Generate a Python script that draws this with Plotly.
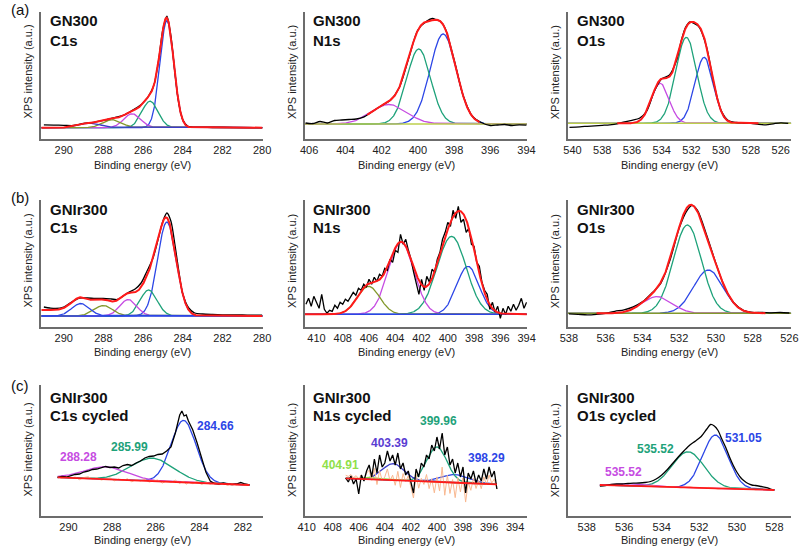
import numpy as np
import plotly.graph_objects as go

FONT = "Liberation Sans, Arial, Helvetica, sans-serif"
W, H = 810, 549

# ============================ DATA ============================
# ---- (a) GN300 C1s
a1_E = [291.0, 290.5, 290.0, 289.5, 289.0, 288.5, 288.0, 287.5, 287.0, 286.5, 286.0, 285.5, 285.25,
        285.0, 284.8, 284.6, 284.4, 284.2, 284.0, 283.75, 283.5, 283.0, 282.5, 282.0, 281.0, 280.0]
a1_I = [2.8, 2.6, 2.4, 2.2, 4.2, 5.4, 7.3, 9.8, 12.3, 17.8, 24.8, 40.0, 63.0,
        98.5, 111.5, 92.0, 55.5, 24.0, 7.8, 1.4, 0.4, 0.3, 0.2, 0.2, 0.1, 0.0]
a1_center = [284.80, 285.65, 286.55, 287.55, 288.70]
a1_height = [107.0, 26.5, 14.0, 8.0, 4.5]
a1_fwhm = [0.82, 0.95, 1.0, 1.1, 1.3]

# ---- (a) GN300 N1s
a2_E = [406.2, 405.8, 405.4, 405.0, 404.6, 404.2, 403.8, 403.4, 403.0, 402.5, 402.0, 401.5, 401.0, 400.5,
        400.0, 399.5, 399.2, 399.0, 398.75, 398.5, 398.0, 397.5, 397.0, 396.5, 396.0, 395.6, 395.2,
        394.8, 394.4, 394.0]
a2_I = [1.0, 0.5, 2.5, 1.0, 3.5, 4.0, 4.5, 5.0, 6.8, 12.5, 18.5, 24.0, 37.5, 66.0,
        94.0, 103.0, 105.5, 104.5, 102.5, 96.0, 64.5, 28.5, 8.0, 1.5, -1.5, -1.0, -0.5,
        -1.5, -0.8, -1.2]
a2_center = [398.6, 399.95, 401.6]
a2_height = [90.0, 75.0, 19.5]
a2_fwhm = [1.7, 1.55, 2.3]

# ---- (a) GN300 O1s
a3_E = [540.2, 539.5, 539.0, 538.5, 538.0, 537.5, 537.0, 536.5, 536.0, 535.5, 535.0, 534.5, 534.0, 533.5,
        533.0, 532.7, 532.4, 532.1, 531.9, 531.5, 531.0, 530.5, 530.0, 529.5, 529.0, 528.5, 528.0,
        527.5, 527.0, 526.5, 526.0, 525.5]
a3_I = [-4.0, -3.5, -3.0, -2.5, -2.0, -1.5, -0.5, 1.5, 3.0, 5.0, 12.5, 32.0, 44.5, 48.0,
        63.0, 82.0, 96.0, 101.5, 100.5, 96.5, 77.0, 40.0, 12.5, 2.5, 0.8, 0.3, 0.0,
        -1.0, -1.5, -0.5, 0.5, 0.0]
a3_center = [531.15, 532.35, 534.1]
a3_height = [66.0, 86.0, 40.0]
a3_fwhm = [1.45, 1.65, 1.4]

# ---- (b) GNIr300 C1s
b1_E = [291.0, 290.7, 290.4, 290.0, 289.6, 289.2, 288.8, 288.4, 288.0, 287.6, 287.3, 287.0, 286.7,
        286.4, 286.1, 285.8, 285.5, 285.2, 285.0, 284.8, 284.6, 284.4, 284.2, 284.0, 283.7, 283.4,
        283.0, 282.5, 282.0, 281.5, 281.0, 280.5, 280.0]
b1_I = [9, 8, 7.5, 9, 14, 18, 18, 17.5, 17.5, 17, 16.5, 20, 24,
        27, 33, 45, 58, 80, 95, 103, 95, 72, 45, 22, 8, 3,
        2, 1.5, 1.2, 1, 1, 0.8, 0.8]
b1_center = [284.8, 285.72, 286.75, 288.0, 289.15]
b1_height = [94.0, 26.0, 16.5, 10.5, 12.5]
b1_fwhm = [1.1, 1.0, 1.0, 1.1, 1.05]
b1_shirley_step = 6.0

# ---- (b) GNIr300 N1s
b2_E = [410.8, 410.6, 410.4, 410.2, 410.0, 409.8, 409.6, 409.4, 409.2, 409.0,
        408.8, 408.6, 408.4, 408.2, 408.0, 407.8, 407.6, 407.4, 407.2, 407.0,
        406.8, 406.6, 406.4, 406.2, 406.0, 405.8, 405.6, 405.4, 405.2, 405.0,
        404.8, 404.6, 404.4, 404.2, 404.0, 403.8, 403.6, 403.4, 403.2, 403.0,
        402.8, 402.6, 402.4, 402.2, 402.0, 401.8, 401.6, 401.4, 401.2, 401.0,
        400.8, 400.6, 400.4, 400.2, 400.0, 399.8, 399.6, 399.4, 399.2, 399.0,
        398.8, 398.6, 398.4, 398.2, 398.0, 397.8, 397.6, 397.4, 397.2, 397.0,
        396.8, 396.6, 396.4, 396.2, 396.0, 395.8, 395.6, 395.4, 395.2, 395.0,
        394.8, 394.6, 394.4, 394.2, 394.0]
b2_I = [10, 16, 8, 18, 12, 6, 20, 5, 1, 4,
        3, 9, 6, 12, 10, 15, 13, 18, 22, 19,
        26, 24, 30, 27, 35, 30, 37, 33, 40, 38,
        46, 44, 55, 52, 64, 62, 80, 70, 75, 64,
        55, 42, 30, 20, 35, 24, 38, 32, 45, 42,
        55, 62, 75, 82, 92, 88, 104, 96, 108, 92,
        95, 82, 86, 70, 68, 52, 48, 32, 24, 20,
        5, 12, 2, 8, -4, 6, 0, 8, 3, 10,
        4, 9, 16, 6, 12]
b2_center = [398.47, 399.71, 403.55, 406.03]
b2_height = [48.0, 78.0, 72.0, 28.0]
b2_fwhm = [2.0, 2.6, 2.3, 2.0]

# ---- (b) GNIr300 O1s
b3_E = [538.0, 537.5, 537.0, 536.5, 536.0, 535.5, 535.0, 534.5, 534.0, 533.5, 533.0, 532.5, 532.0,
        531.6, 531.3, 531.0, 530.5, 530.0, 529.5, 529.0, 528.5, 528.0, 527.5, 527.0, 526.5, 526.0]
b3_I = [-0.5, -1.0, -1.5, -1.0, 0.0, 2.0, 3.5, 6.5, 11.5, 20.0, 30.0, 53.0, 85.0,
        102.0, 108.0, 103.0, 78.0, 50.0, 25.0, 10.0, 3.0, 0.8, 1.0, 0.5, 0.8, 0.3]
b3_center = [530.41, 531.55, 533.2]
b3_height = [43.3, 88.3, 16.7]
b3_fwhm = [1.9, 1.8, 1.9]

# ---- (c) GNIr300 C1s cycled
c1_E = [290.5, 290.3, 290.1, 289.9, 289.7, 289.5, 289.3, 289.1, 288.9, 288.7, 288.5, 288.3, 288.1,
        287.9, 287.7, 287.5, 287.3, 287.1, 286.9, 286.7, 286.5, 286.3, 286.1, 285.9, 285.7, 285.5,
        285.3, 285.1, 284.9, 284.8, 284.7, 284.6, 284.5, 284.3, 284.1, 283.9, 283.7, 283.5, 283.3,
        283.1, 282.9, 282.7, 282.5, 282.3, 282.1, 281.9, 281.7]
c1_I = [7.5, 8.5, 8.0, 9.5, 10.5, 11.0, 13.0, 14.0, 15.5, 16.0, 17.5, 18.5, 17.5,
        18.0, 17.0, 19.5, 20.5, 19.5, 22.0, 24.0, 27.0, 28.5, 29.0, 30.5, 31.0, 34.0,
        38.0, 52.0, 70.0, 74.0, 69.0, 70.0, 64.0, 55.0, 42.0, 27.0, 13.0, 4.0, 1.5,
        1.0, 2.0, 1.0, 0.5, 1.0, 2.5, 1.0, 0.0]
c1_resid = [0.5, -1.0, 1.5, -0.5, 1.0, -1.5, 0.8, 1.8, -0.6, 1.2, -1.0, 0.4, 1.6,
            -1.2, 0.6, -0.8, 1.4, -1.5, 0.9, -0.4, 1.7, -1.1, 0.5, 1.3, -1.6, 0.7,
            -0.5, 1.9, -1.3, 0.6, 1.0, -1.8, 0.4, -0.9, 1.5, -1.4, 0.8, -0.6, 1.2,
            -1.0, 0.5, -1.2, 0.9, -0.4, 0.3, -0.5, 0.2]
c1_bg_E = [290.5, 281.7]
c1_bg_I = [7.7, 0.0]
c1_center = [284.72, 286.15, 288.28]
c1_height = [62.0, 23.0, 12.5]
c1_fwhm = [1.35, 2.3, 2.3]
c1_labels = ["284.66", "285.99", "288.28"]

# ---- (c) GNIr300 N1s cycled
c2_E = [407.0, 406.8, 406.6, 406.4, 406.2, 406.0, 405.8, 405.6, 405.4, 405.2,
        405.0, 404.8, 404.6, 404.4, 404.2, 404.0, 403.8, 403.6, 403.4, 403.2,
        403.0, 402.8, 402.6, 402.4, 402.2, 402.0, 401.8, 401.6, 401.4, 401.2,
        401.0, 400.8, 400.6, 400.4, 400.2, 400.0, 399.8, 399.6, 399.4, 399.2,
        399.0, 398.8, 398.6, 398.4, 398.2, 398.0, 397.8, 397.6, 397.4, 397.2,
        397.0, 396.8, 396.6, 396.4, 396.2, 396.0, 395.8, 395.6, 395.4]
c2_I = [7, 3, 9, 1, 6, -9, 10, 4, 14, 20,
        8, 26, 12, 30, 18, 22, 34, 24, 30, 20,
        32, 16, 22, 10, 14, 4, -8, 16, 8, 22,
        18, 30, 26, 40, 34, 48, 36, 52, 30, 38,
        20, 26, 12, 22, 8, 18, -8, 12, 6, 14,
        2, 10, 4, 16, 6, 18, 8, 14, -4]
c2_resid = [3, 2, 4, 1, 3, 0, 4, -1, 6, 9,
            -1, 11, -5, 9, -1, 3, 11, -1, 5, -5,
            9, -7, 7, -1, 5, -5, -17, 7, -7, 3,
            -3, 7, -7, 3, -11, 5, -9, 15, -13, 7,
            -11, 3, -15, 5, -9, 5, -19, 1, -7, 5,
            -5, 3, -5, 7, -1, 9, 1, 5, -5]
c2_bg_E = [407.0, 395.4]
c2_bg_I = [6.7, 0.7]
c2_center = [398.6, 400.0, 403.35, 405.0]
c2_height = [8.0, 35.0, 16.5, 2.0]
c2_fwhm = [2.5, 1.8, 2.0, 1.5]
c2_labels = ["398.29", "399.96", "403.39", "404.91"]

# ---- (c) GNIr300 O1s cycled
c3_E = [537.3, 537.0, 536.7, 536.4, 536.1, 535.8, 535.5, 535.2, 534.9, 534.6, 534.3, 534.0, 533.7,
        533.4, 533.1, 532.8, 532.5, 532.2, 531.9, 531.6, 531.4, 531.2, 531.0, 530.8, 530.6, 530.4,
        530.2, 530.0, 529.8, 529.6, 529.4, 529.2, 529.0, 528.7, 528.4, 528.2, 528.0]
c3_I = [4.0, 4.5, 5.5, 6.0, 6.0, 6.5, 6.8, 7.0, 7.5, 8.5, 11.0, 15.0, 20.5,
        27.0, 33.5, 39.5, 45.0, 49.0, 53.5, 61.0, 65.5, 64.0, 59.5, 51.0, 43.0, 33.5,
        25.0, 18.0, 12.5, 9.0, 6.5, 5.0, 4.5, 3.5, 2.5, 1.0, 0.0]
c3_resid_E = [535.0, 534.5, 534.0, 533.5, 533.0, 532.5, 532.0, 531.5, 531.0, 530.5, 530.0,
              529.5, 529.0, 528.5, 528.0]
c3_resid = [-0.3, 0.7, -0.4, 0.4, -0.5, 0.6, -0.5, 0.7, -0.6, 0.9, -0.5, 0.6, -0.3, 0.6, -0.3]
c3_bg_E = [537.3, 528.0]
c3_bg_I = [5.0, 0.0]
c3_center = [531.14, 532.59, 535.5]
c3_height = [53.3, 35.8, 2.0]
c3_fwhm = [1.6, 2.0, 2.0]
c3_labels = ["531.05", "535.52", "535.52"]

# ============================ STYLE ============================
BLUE = "#2c46e6"
GREEN = "#1ea27a"
MAG = "#c64ce2"
OLIVE = "#83992c"
NAVY = "#3a3cc8"
LGREEN = "#8fe04a"
PURPLE = "#5a3dd2"
RED = "#ff1a1a"
ORANGE = "#f9b890"
YG = "#bccf4c"
AX = "#6c6c6c"

col_px = [(34, 260), (303, 530), (572, 800)]
row_px = [(12, 139.3), (200, 327.3), (385, 515.7)]


def gauss(x, c, h, w):
    return h * np.exp(-4.0 * np.log(2.0) * ((x - c) / w) ** 2)


panels = [
    dict(row=0, col=0, xr=[291.13, 279.98], yr=[-11.6, 115.7], E=a1_E, I=a1_I,
         c=a1_center, h=a1_height, w=a1_fwhm, colors=[BLUE, GREEN, MAG, OLIVE, NAVY],
         env=None, base=None, shirley=0.0, smooth=True, t1="GN300", t2="C1s"),
    dict(row=0, col=1, xr=[406.25, 393.98], yr=[-15.3, 112], E=a2_E, I=a2_I,
         c=a2_center, h=a2_height, w=a2_fwhm, colors=[BLUE, GREEN, MAG],
         env=[396.6, 402.8], base=YG, shirley=0.0, smooth=True, t1="GN300", t2="N1s"),
    dict(row=0, col=2, xr=[540.3, 525.3], yr=[-16, 111.3], E=a3_E, I=a3_I,
         c=a3_center, h=a3_height, w=a3_fwhm, colors=[BLUE, GREEN, MAG],
         env=[527.5, 537.0], base=YG, shirley=0.0, smooth=True, t1="GN300", t2="O1s"),
    dict(row=1, col=0, xr=[291.13, 279.98], yr=[-11.3, 116], E=b1_E, I=b1_I,
         c=b1_center, h=b1_height, w=b1_fwhm, colors=[BLUE, GREEN, MAG, OLIVE, BLUE],
         env=None, base=BLUE, shirley=b1_shirley_step, smooth=True, t1="GNIr300", t2="C1s"),
    dict(row=1, col=1, xr=[410.9, 393.98], yr=[-13, 114.3], E=b2_E, I=b2_I,
         c=b2_center, h=b2_height, w=b2_fwhm, colors=[BLUE, GREEN, MAG, OLIVE],
         env=None, base=BLUE, shirley=0.0, smooth=False, t1="GNIr300", t2="N1s"),
    dict(row=1, col=2, xr=[538.05, 525.9], yr=[-14, 113.3], E=b3_E, I=b3_I,
         c=b3_center, h=b3_height, w=b3_fwhm, colors=[BLUE, GREEN, MAG],
         env=[527.3, 536.5], base=OLIVE, shirley=0.0, smooth=True, t1="GNIr300", t2="O1s"),
]

cpanels = [
    dict(row=2, col=0, xr=[291.25, 281.1], yr=[-30.7, 100], E=c1_E, I=c1_I,
         rE=c1_E, r=c1_resid, bgE=c1_bg_E, bgI=c1_bg_I,
         c=c1_center, h=c1_height, w=c1_fwhm, colors=[BLUE, GREEN, MAG], smooth=False,
         t1="GNIr300", t2="C1s cycled",
         labels=[(c1_labels[2], 71.7, 457.3, MAG), (c1_labels[1], 123.8, 447.3, GREEN),
                 (c1_labels[0], 212, 425.7, BLUE)]),
    dict(row=2, col=1, xr=[410.15, 393.1], yr=[-30.7, 100], E=c2_E, I=c2_I,
         rE=c2_E, r=c2_resid, bgE=c2_bg_E, bgI=c2_bg_I,
         c=c2_center, h=c2_height, w=c2_fwhm, colors=[BLUE, GREEN, NAVY, LGREEN], smooth=False,
         t1="GNIr300", t2="N1s cycled",
         labels=[(c2_labels[3], 339.5, 465, LGREEN), (c2_labels[2], 390, 443.3, PURPLE),
                 (c2_labels[1], 440, 421, GREEN), (c2_labels[0], 488.3, 458.3, BLUE)]),
    dict(row=2, col=2, xr=[539.0, 527.1], yr=[-25.7, 105], E=c3_E, I=c3_I,
         rE=c3_resid_E, r=c3_resid, bgE=c3_bg_E, bgI=c3_bg_I,
         c=c3_center, h=c3_height, w=c3_fwhm, colors=[BLUE, GREEN, MAG], smooth=True,
         t1="GNIr300", t2="O1s cycled",
         labels=[(c3_labels[2], 628.7, 472.3, MAG), (c3_labels[1], 661.3, 449.3, GREEN),
                 (c3_labels[0], 751.3, 438.3, BLUE)]),
]

fig = go.Figure()
layout = dict(width=W, height=H, margin=dict(l=0, r=0, t=0, b=0),
              paper_bgcolor="white", plot_bgcolor="white", showlegend=False,
              font=dict(family=FONT, color="#222"))
annotations = []


def ann(text, xpx, ypx, size=11, color="#111", bold=False, xanchor="center", angle=0):
    annotations.append(dict(
        text=("<b>%s</b>" % text) if bold else text, x=xpx / W, y=1 - ypx / H,
        xref="paper", yref="paper", xanchor=xanchor, yanchor="middle", showarrow=False,
        textangle=angle, borderpad=0, font=dict(family=FONT, size=size, color=color)))


def add_axes(k, p):
    x0, x1 = col_px[p["col"]]
    y0, y1 = row_px[p["row"]]
    xn = "xaxis" if k == 1 else "xaxis%d" % k
    yn = "yaxis" if k == 1 else "yaxis%d" % k
    xa = "x" if k == 1 else "x%d" % k
    ya = "y" if k == 1 else "y%d" % k
    layout[xn] = dict(domain=[x0 / W, x1 / W], range=p["xr"], anchor=ya, showline=True,
                      linecolor=AX, linewidth=1.5, ticks="", showgrid=False, zeroline=False,
                      dtick=2, tick0=0, tickfont=dict(family=FONT, size=11, color="#222"))
    layout[yn] = dict(domain=[1 - y1 / H, 1 - y0 / H], range=p["yr"], anchor=xa, showline=True,
                      linecolor=AX, linewidth=1.5, ticks="", showgrid=False, zeroline=False,
                      showticklabels=False)
    return xa, ya


def line(xa, ya, x, y, color, width=1.3, shape="linear"):
    fig.add_trace(go.Scatter(x=x, y=y, mode="lines", xaxis=xa, yaxis=ya, hoverinfo="skip",
                             line=dict(color=color, width=width, shape=shape,
                                       smoothing=0.8 if shape == "spline" else None)))


title_y = [(20.8, 40.8), (209.7, 227.8), (397.5, 415.8)]
title_x = [41.7, 311, 580]
xtitle_x = [137, 407, 676]
xtitle_y = [165, 352, 540]
ytitle_x = [20, 290, 559]
ytitle_y = [72, 261, 450]

k = 0
for p in panels:
    k += 1
    xa, ya = add_axes(k, p)
    lo, hi = min(p["xr"]), max(p["xr"])
    xf = np.linspace(lo, hi, 900)
    comps = [gauss(xf, c, h, w) for c, h, w in zip(p["c"], p["h"], p["w"])]
    total = np.sum(comps, axis=0)
    if p["shirley"] > 0:
        cum = np.cumsum(total)
        bg = p["shirley"] * cum / cum[-1]
    else:
        bg = np.zeros_like(xf)
    env = total + bg
    for comp, col in zip(comps, p["colors"]):
        line(xa, ya, xf, comp, col, 1.3)
    if p["base"]:
        line(xa, ya, [lo, hi], [0, 0], p["base"], 1.6)
    line(xa, ya, p["E"], p["I"], "#000000", 1.3, "spline" if p["smooth"] else "linear")
    if p["env"]:
        m = (xf >= p["env"][0]) & (xf <= p["env"][1])
        line(xa, ya, xf[m], env[m], RED, 2.0)
    else:
        line(xa, ya, xf, env, RED, 2.0)
    r, c = p["row"], p["col"]
    ann(p["t1"], title_x[c], title_y[r][0], 15, "#111", True, "left")
    ann(p["t2"], title_x[c], title_y[r][1], 15, "#111", True, "left")

for p in cpanels:
    k += 1
    xa, ya = add_axes(k, p)
    lo, hi = min(p["E"]), max(p["E"])
    xf = np.linspace(lo, hi, 900)
    bgx = sorted(p["bgE"])
    bgy = [v for _, v in sorted(zip(p["bgE"], p["bgI"]))]
    bg = np.interp(xf, bgx, bgy)
    for cc, hh, ww, col in zip(p["c"], p["h"], p["w"], p["colors"]):
        line(xa, ya, xf, bg + gauss(xf, cc, hh, ww), col, 1.3)
    rE = np.array(p["rE"], dtype=float)
    n = min(len(rE), len(p["r"]))
    line(xa, ya, rE[:n], np.interp(rE[:n], bgx, bgy) + np.array(p["r"][:n]), ORANGE, 1.0)
    line(xa, ya, p["E"], p["I"], "#000000", 1.3, "spline" if p["smooth"] else "linear")
    line(xa, ya, xf, bg, RED, 1.8)
    r, c = p["row"], p["col"]
    ann(p["t1"], title_x[c], title_y[r][0], 15, "#111", True, "left")
    ann(p["t2"], title_x[c], title_y[r][1], 15, "#111", True, "left")
    for txt, lx, ly, col in p["labels"]:
        ann(txt, lx, ly, 12, col, True)

for r in range(3):
    for c in range(3):
        ann("Binding energy (eV)", xtitle_x[c], xtitle_y[r], 11, "#222")
        ann("XPS intensity (a.u.)", ytitle_x[c], ytitle_y[r], 11, "#222", angle=-90)

ann("(a)", 2, 9, 15, "#111", False, "left")
ann("(b)", 2, 198, 15, "#111", False, "left")
ann("(c)", 2, 385, 15, "#111", False, "left")

layout["annotations"] = annotations
fig.update_layout(**layout)
fig.write_html("out.html", config={"displayModeBar": False},
               post_script="document.body.style.margin='0px';document.body.style.padding='0px';")
